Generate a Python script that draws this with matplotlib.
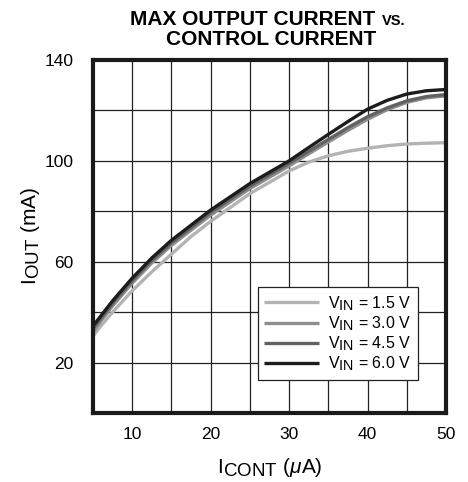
"""Max output current vs control current."""

import matplotlib
matplotlib.use('Agg')
import matplotlib.pyplot as plt
import matplotlib._mathtext as mtext

plt.rcParams['font.family'] = ['Liberation Sans', 'DejaVu Sans']
plt.rcParams['mathtext.fontset'] = 'custom'
plt.rcParams['mathtext.rm'] = 'Liberation Sans'
plt.rcParams['mathtext.it'] = 'Liberation Sans:italic'
# subscripts in the original are almost full size
mtext.SHRINK_FACTOR = 0.9

# data: control current (uA), output current (mA)
icont = [5, 6, 7.5, 10, 12.5, 15, 17.5, 20, 25, 30, 32.5, 35, 37.5,
         40, 42.5, 45, 47.5, 50]
iout_6v0 = [34.5, 38.5, 44.5, 53.5, 61.5, 68.5, 74.5, 80.5, 91, 100,
            105.3, 110.5, 115.6, 120.5, 124, 126.5, 127.8, 128.3]
iout_4v5 = [33.5, 37.5, 43.5, 52.5, 60.5, 67.5, 73.5, 79.5, 90, 99,
            103.8, 108.5, 113.2, 117.5, 121, 123.8, 125.5, 126.3]
iout_3v0 = [32, 36.5, 42.5, 51.5, 59.5, 66.5, 72.5, 78.5, 89, 98,
            102.8, 107.5, 112.1, 116.5, 120.3, 123.2, 125, 125.8]
iout_1v5 = [30.5, 34.5, 40, 48.5, 56, 63, 70, 76, 87, 96,
            99.5, 102, 103.8, 105, 106, 106.7, 107, 107.2]

labels = ['1.5', '3.0', '4.5', '6.0']
series = [iout_1v5, iout_3v0, iout_4v5, iout_6v0]
colors = ['#b3b3b3', '#8e8e8e', '#626262', '#1c1c1c']

W, H = 468, 482
fig = plt.figure(figsize=(W/100, H/100), dpi=100)
ax = fig.add_axes([93/W, 1 - 413/H, 353/W, 353/H])

for lbl, val, col in zip(labels, series, colors):
    ax.plot(icont, val, color=col, lw=2.4, solid_capstyle='butt',
            label=r'$\mathregular{V_{IN}}$ = ' + lbl + ' V')

ax.set_xlim(5, 50)
ax.set_ylim(0, 140)
ax.set_xticks([10, 20, 30, 40, 50])
ax.set_yticks([20, 60, 100, 140])
ax.set_xticks(range(5, 51, 5), minor=True)
ax.set_yticks(range(0, 141, 20), minor=True)
ax.grid(True, which='both', color='#222222', lw=0.9)
ax.set_axisbelow(True)
ax.tick_params(which='both', length=0, labelsize=12.5)
ax.tick_params(axis='x', pad=10)
ax.tick_params(axis='y', pad=14)
for sp in ax.spines.values():
    sp.set_linewidth(3)
    sp.set_color('#1a1a1a')

ax.set_xlabel(r'$\mathregular{I_{CONT}}$ ($\mu$A)', fontsize=15,
              labelpad=10)
ax.set_ylabel(r'$\mathregular{I_{OUT}}$ (mA)', fontsize=15, labelpad=2)

leg = ax.legend(loc='lower right', bbox_to_anchor=(0.92, 0.094),
                borderaxespad=0, fontsize=11.5, handlelength=3.4,
                handletextpad=0.6, fancybox=False, framealpha=1,
                edgecolor='#222222', labelspacing=0.1, borderpad=0.4)
leg.get_frame().set_linewidth(0.9)

# title, "VS." is set smaller
fig.text(130/W, 1 - 25/H, 'MAX OUTPUT CURRENT', fontsize=15,
         fontweight='bold', ha='left', va='baseline')
fig.text(382/W, 1 - 25/H, 'VS.', fontsize=10.5,
         fontweight='bold', ha='left', va='baseline')
fig.text(271/W, 1 - 45/H, 'CONTROL CURRENT', fontsize=15,
         fontweight='bold', ha='center', va='baseline')

fig.savefig('out.png', dpi=100)
